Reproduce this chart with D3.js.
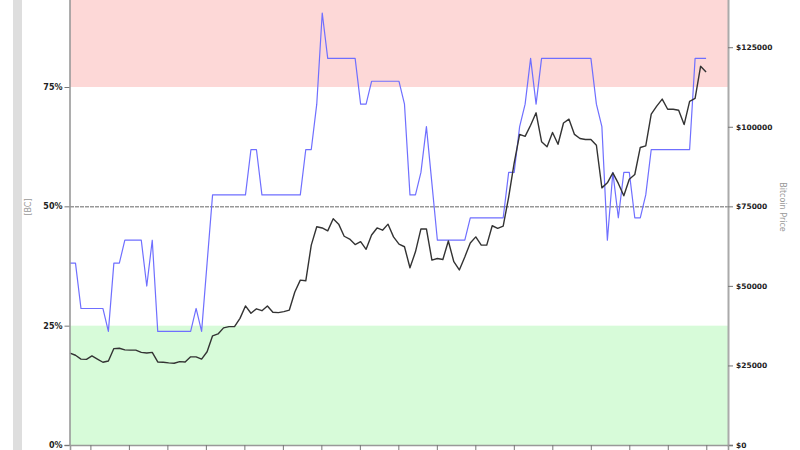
<!DOCTYPE html>
<html>
<head>
<meta charset="utf-8">
<script src="https://cdn.jsdelivr.net/npm/d3@7"></script>
<style>
  html, body { margin: 0; padding: 0; background: #fff; }
  svg { display: block; }
</style>
</head>
<body>
<svg id="chart" width="800" height="450"></svg>
<script>
// Weekly samples (index 0 .. 116)
const bcIndex = [
  38.1, 38.1, 28.6, 28.6, 28.6, 28.6, 28.6, 23.8, 38.1, 38.1,
  42.9, 42.9, 42.9, 42.9, 33.3, 42.9, 23.8, 23.8, 23.8, 23.8,
  23.8, 23.8, 23.8, 28.6, 23.8, 38.1, 52.4, 52.4, 52.4, 52.4,
  52.4, 52.4, 52.4, 61.9, 61.9, 52.4, 52.4, 52.4, 52.4, 52.4,
  52.4, 52.4, 52.4, 61.9, 61.9, 71.4, 90.5, 81.0, 81.0, 81.0,
  81.0, 81.0, 81.0, 71.4, 71.4, 76.2, 76.2, 76.2, 76.2, 76.2,
  76.2, 71.4, 52.4, 52.4, 57.1, 66.7, 54.8, 42.9, 42.9, 42.9,
  42.9, 42.9, 42.9, 47.6, 47.6, 47.6, 47.6, 47.6, 47.6, 47.6,
  57.1, 57.1, 66.7, 71.4, 81.0, 71.4, 81.0, 81.0, 81.0, 81.0,
  81.0, 81.0, 81.0, 81.0, 81.0, 81.0, 71.4, 66.7, 42.9, 57.1,
  47.6, 57.1, 57.1, 47.6, 47.6, 52.4, 61.9, 61.9, 61.9, 61.9,
  61.9, 61.9, 61.9, 61.9, 81.0, 81.0, 81.0
];
const btcPrice = [
  28900, 28200, 27000, 26900, 28000, 27000, 26000, 26400, 30300, 30400,
  29900, 29800, 29800, 29100, 28900, 29100, 26100, 26000, 25800, 25700,
  26200, 26100, 27700, 27700, 27000, 29300, 34300, 34900, 36800, 37200,
  37200, 39800, 43700, 41400, 42800, 42200, 43700, 41700, 41600, 41900,
  42400, 48100, 51800, 51600, 62800, 68600, 68200, 67300, 71100, 69400,
  65600, 64700, 63000, 63900, 61500, 66000, 68200, 67500, 69400, 65400,
  63100, 62300, 55700, 60700, 67900, 67900, 58100, 58600, 58300, 64100,
  57600, 55000, 59100, 63500, 65400, 62800, 62800, 68900, 68100, 68800,
  77900, 88600, 97600, 97000, 100500, 104400, 95300, 93700, 98200, 94500,
  101200, 102400, 97600, 96300, 96000, 96000, 94200, 80800, 82400, 85500,
  82200, 78300, 83500, 85000, 93500, 94000, 104000, 106500, 108700, 105500,
  105500, 105200, 100700, 108000, 108900, 119000, 117200
];
const pctTicks = [0, 25, 50, 75];
const priceTicks = [0, 25000, 50000, 75000, 100000, 125000];
const zoneBounds = { low: 25, mid: 50, high: 75, max: 100 };
const leftTitle = "[BC]";
const rightTitle = "Bitcoin Price";

const svg = d3.select("#chart");
const L = 70, R = 728, B = 445;
const pxPerPct = (445 - 87) / 75;
const T = B - 100 * pxPerPct;

const x = d3.scaleLinear().domain([0, 120]).range([L, R]);
const y = d3.scaleLinear().domain([0, 100]).range([B, T]);
const yP = d3.scaleLinear().domain([0, 150000]).range([B, T]);

// left gray strip
svg.append("rect").attr("x", 13).attr("y", 0).attr("width", 9).attr("height", 450).attr("fill", "#dedede");

// zones
svg.append("rect").attr("x", L).attr("width", R - L)
  .attr("y", y(zoneBounds.max)).attr("height", y(zoneBounds.high) - y(zoneBounds.max))
  .attr("fill", "#fdd8d7");
svg.append("rect").attr("x", L).attr("width", R - L)
  .attr("y", y(zoneBounds.low)).attr("height", y(0) - y(zoneBounds.low))
  .attr("fill", "#d7fbd9");

// 50% line
svg.append("line").attr("x1", L).attr("x2", R)
  .attr("y1", y(zoneBounds.mid) + 0.5).attr("y2", y(zoneBounds.mid) + 0.5)
  .attr("stroke", "#666").attr("stroke-width", 1).attr("stroke-dasharray", "4,1");

// lines
const bcLine = d3.line().x((d, i) => x(i)).y(d => y(d));
svg.append("path").datum(bcIndex).attr("d", bcLine)
  .attr("fill", "none").attr("stroke", "#6f6fff").attr("stroke-width", 1.2)
  .attr("stroke-linejoin", "round");

const priceLine = d3.line().x((d, i) => x(i)).y(d => yP(d));
svg.append("path").datum(btcPrice).attr("d", priceLine)
  .attr("fill", "none").attr("stroke", "#333").attr("stroke-width", 1.4)
  .attr("stroke-linejoin", "round");

// axes
const fontFam = "DejaVu Sans, Verdana, sans-serif";
const gL = svg.append("g").attr("transform", `translate(${L - 0.5},0)`)
  .call(d3.axisLeft(y).tickValues(pctTicks).tickFormat(d => d + "%").tickSize(5).tickPadding(2));
gL.selectAll("text").attr("font-family", fontFam).attr("font-size", 8).attr("font-weight", "bold").attr("fill", "#222");

const gR = svg.append("g").attr("transform", `translate(${R},0)`)
  .call(d3.axisRight(yP).tickValues(priceTicks).tickFormat(d => "$" + d).tickSize(5).tickPadding(3));
gR.selectAll("text").attr("font-family", fontFam).attr("font-size", 7.5).attr("font-weight", "bold").attr("fill", "#222");

const gB = svg.append("g").attr("transform", `translate(0,${B})`)
  .call(d3.axisBottom(x).tickValues(d3.range(3.72, 117, 7.02)).tickFormat("").tickSize(5));

[gL, gR, gB].forEach(g => {
  g.select(".domain").attr("stroke", "#999").attr("stroke-width", 1.6);
  g.selectAll(".tick line").attr("stroke", "#777");
});
gR.select(".domain").attr("stroke-width", 2).attr("stroke", "#aaa");

// axis titles
svg.append("text").attr("transform", "translate(31,207) rotate(-90)")
  .attr("text-anchor", "middle").attr("font-family", fontFam).attr("font-size", 8)
  .attr("fill", "#999").text(leftTitle);
svg.append("text").attr("transform", "translate(780,207) rotate(90)")
  .attr("text-anchor", "middle").attr("font-family", fontFam).attr("font-size", 8)
  .attr("fill", "#999").text(rightTitle);
</script>
</body>
</html>
